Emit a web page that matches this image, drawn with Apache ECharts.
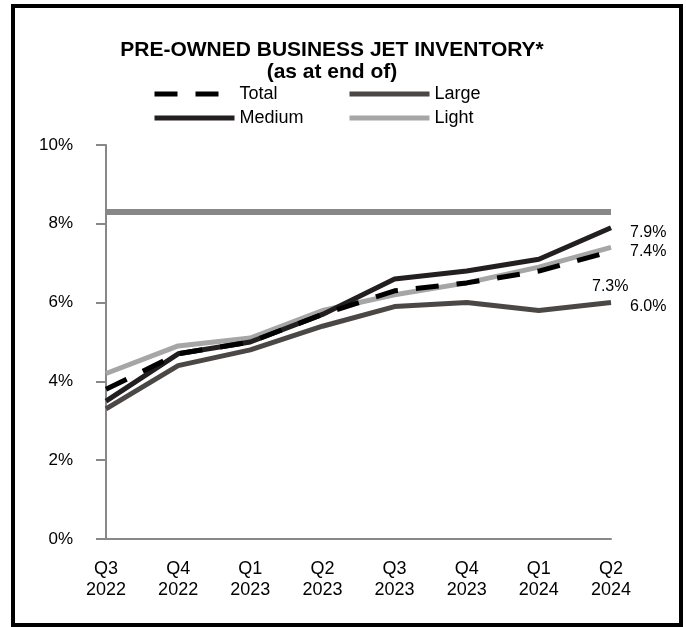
<!DOCTYPE html>
<html>
<head>
<meta charset="utf-8">
<script src="https://cdn.jsdelivr.net/npm/echarts@6/dist/echarts.min.js"></script>
<style>
html,body{margin:0;padding:0;background:#fff;}
#chart{width:686px;height:627px;}
</style>
</head>
<body>
<div id="chart"></div>
<script>
const categories = ['Q3\n2022','Q4\n2022','Q1\n2023','Q2\n2023','Q3\n2023','Q4\n2023','Q1\n2024','Q2\n2024'];
const total  = [3.8, 4.7, 5.0, 5.7, 6.3, 6.5, 6.8, 7.3];
const medium = [3.5, 4.7, 5.0, 5.7, 6.6, 6.8, 7.1, 7.9];
const large  = [3.3, 4.4, 4.8, 5.4, 5.9, 6.0, 5.8, 6.0];
const light  = [4.2, 4.9, 5.1, 5.8, 6.2, 6.5, 6.9, 7.4];
const reference = [8.3, 8.3, 8.3, 8.3, 8.3, 8.3, 8.3, 8.3];
const yTicks = [0, 2, 4, 6, 8, 10];

const chart = echarts.init(document.getElementById('chart'));
const font = 'Liberation Sans, Arial, sans-serif';
const fmt = p => Number(p.value).toFixed(1) + '%';
const legendCommon = {
  orient: 'vertical', top: 85, itemWidth: 80, itemHeight: 10, itemGap: 6, padding: 0,
  textStyle: { fontFamily: font, fontSize: 18, color: '#000' }, selectedMode: false,
  itemStyle: { opacity: 0 }, lineStyle: { width: 5 }
};

chart.setOption({
  animation: false,
  backgroundColor: '#fff',
  textStyle: { fontFamily: font },
  graphic: [{
    type: 'rect', shape: { x: 13, y: 6, width: 668, height: 619 },
    style: { fill: 'none', stroke: '#000', lineWidth: 4 }, silent: true
  }],
  title: {
    text: 'PRE-OWNED BUSINESS JET INVENTORY*\n(as at end of)',
    left: 327, top: 34, textAlign: 'center',
    textStyle: { fontFamily: font, fontSize: 21, fontWeight: 'bold', color: '#000', lineHeight: 22 }
  },
  legend: [
    Object.assign({ data: ['Total', 'Medium'], left: 152 }, legendCommon),
    Object.assign({ data: ['Large', 'Light'], left: 347 }, legendCommon)
  ],
  grid: { left: 106, right: 75, top: 145, bottom: 88, containLabel: false },
  xAxis: {
    type: 'category', data: categories, boundaryGap: false,
    axisLine: { lineStyle: { color: '#888', width: 2 } },
    axisTick: { show: false },
    axisLabel: { color: '#000', fontSize: 18, margin: 20, lineHeight: 21, fontFamily: font }
  },
  yAxis: {
    type: 'value', min: yTicks[0], max: yTicks[yTicks.length - 1], interval: 2,
    axisLine: { show: true, lineStyle: { color: '#888', width: 2 } },
    axisTick: { show: true, length: 10, lineStyle: { color: '#888', width: 2 } },
    splitLine: { show: false },
    axisLabel: { color: '#000', fontSize: 17, margin: 33, formatter: '{value}%', fontFamily: font }
  },
  series: [
    { name: 'ref', type: 'line', data: reference, symbol: 'none', z: 1,
      lineStyle: { color: '#888', width: 6 }, itemStyle: { color: '#888' } },
    { name: 'Light', type: 'line', data: light, symbol: 'none', z: 2,
      lineStyle: { color: '#a6a6a6', width: 5 }, itemStyle: { color: '#a6a6a6' },
      endLabel: { show: true, formatter: fmt, fontSize: 16, color: '#000', offset: [11, 4], fontFamily: font } },
    { name: 'Large', type: 'line', data: large, symbol: 'none', z: 3,
      lineStyle: { color: '#4b4745', width: 5 }, itemStyle: { color: '#4b4745' },
      endLabel: { show: true, formatter: fmt, fontSize: 16, color: '#000', offset: [11, 4], fontFamily: font } },
    { name: 'Medium', type: 'line', data: medium, symbol: 'none', z: 4,
      lineStyle: { color: '#231f20', width: 5 }, itemStyle: { color: '#231f20' },
      endLabel: { show: true, formatter: fmt, fontSize: 16, color: '#000', offset: [11, 5], fontFamily: font } },
    { name: 'Total', type: 'line', data: total, symbol: 'none', z: 5,
      lineStyle: { color: '#000', width: 5, type: [23, 18] }, itemStyle: { color: '#000' },
      endLabel: { show: true, formatter: fmt, fontSize: 16, color: '#000', offset: [-27, 35], fontFamily: font } }
  ]
});
</script>
</body>
</html>
